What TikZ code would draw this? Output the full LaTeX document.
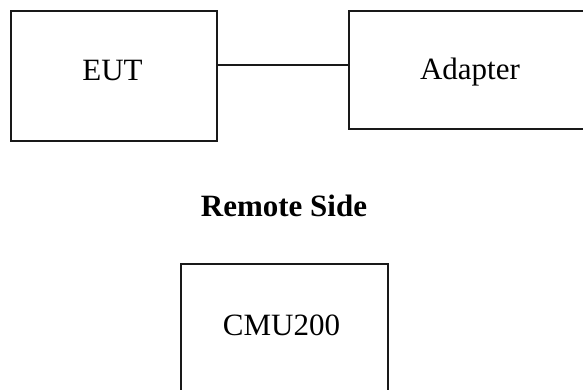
\documentclass[tikz,border=0pt]{standalone}
\usepackage{fontspec}
\setmainfont{Liberation Serif}
\usetikzlibrary{calc}
\begin{document}
\begin{tikzpicture}[x=1pt,y=-1pt,
  box/.style={draw=black!90,line width=1.8pt,rectangle,inner sep=0pt,anchor=north west},
  lbl/.style={anchor=base,inner sep=0pt,font=\fontsize{31}{37}\selectfont},
  conn/.style={draw=black!90,line width=1.8pt}]
\useasboundingbox (0,0) rectangle (583,390);
\clip (0,0) rectangle (583,390);
\node[box,minimum width=206pt,minimum height=130pt] (eut) at (10,10) {};
\node[box,minimum width=260pt,minimum height=118.5pt] (adp) at (348,10) {};
\node[box,minimum width=207pt,minimum height=140pt] (cmu) at (180,263) {};
\node[lbl] (teut) at (112.5,81) {EUT};
\node[lbl] (tadp) at (470,80) {Adapter};
\node[lbl,font=\fontsize{31}{37}\selectfont\bfseries] (remote) at (284,216.5) {Remote Side};
\node[lbl] (tcmu) at (281.5,335) {CMU200};
\coordinate (cy) at (0,65);
\draw[conn] (eut.east |- cy) -- (adp.west |- cy);
\end{tikzpicture}
\end{document}
